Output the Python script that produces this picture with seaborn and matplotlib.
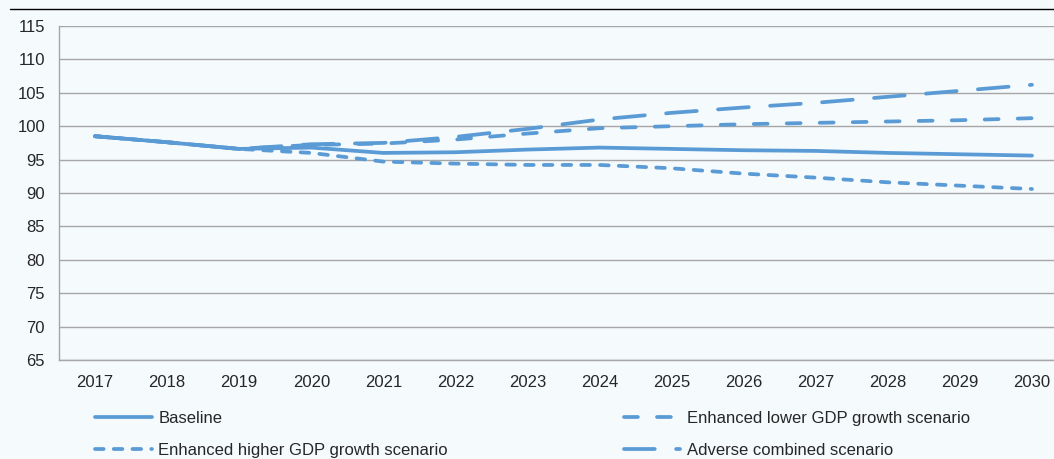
import numpy as np
import pandas as pd
import matplotlib
matplotlib.use("Agg")
import matplotlib.pyplot as plt
import seaborn as sns

# data
years = [2017, 2018, 2019, 2020, 2021, 2022, 2023, 2024, 2025, 2026, 2027, 2028, 2029, 2030]
baseline = [98.5, 97.6, 96.6, 96.8, 96.0, 96.1, 96.5, 96.8, 96.6, 96.4, 96.3, 96.0, 95.8, 95.6]
lower_gdp = [98.5, 97.6, 96.6, 97.2, 97.4, 98.0, 98.9, 99.7, 100.0, 100.3, 100.5, 100.7, 100.9, 101.2]
higher_gdp = [98.5, 97.6, 96.6, 96.0, 94.7, 94.4, 94.2, 94.2, 93.7, 92.9, 92.3, 91.6, 91.1, 90.6]
adverse = [98.5, 97.6, 96.6, 97.3, 97.5, 98.4, 99.6, 101.0, 102.0, 102.8, 103.5, 104.4, 105.3, 106.2]

names = ["Baseline", "Enhanced lower GDP growth scenario",
         "Enhanced higher GDP growth scenario", "Adverse combined scenario"]
series = [baseline, lower_gdp, higher_gdp, adverse]

rows = []
for name, vals in zip(names, series):
    for i, v in enumerate(vals):
        rows.append({"pos": i, "value": v, "scenario": name})
df = pd.DataFrame(rows)

bg = "#F5FAFD"
blue = "#5B9BD5"
txt = "#262626"

sns.set_style("white")
plt.rcParams["font.family"] = ["Liberation Sans", "DejaVu Sans"]

fig = plt.figure(figsize=(10.54, 4.59), dpi=100, facecolor=bg)
ax = fig.add_axes([59 / 1054, 1 - 360 / 459, 1009 / 1054, 334 / 459])
ax.set_facecolor(bg)

dashes = {
    names[0]: "",
    names[1]: (3.7, 5.1),
    names[2]: (2.3, 2.7),
    names[3]: (8.2, 5.7),
}
sns.lineplot(data=df, x="pos", y="value", hue="scenario", style="scenario",
             hue_order=names, style_order=names,
             palette=[blue] * 4, dashes=dashes, linewidth=2.7,
             dash_capstyle="round", solid_capstyle="round", ax=ax, legend=True)

ax.set_xlim(-0.5, 13.5)
ax.set_ylim(65, 115)
ax.set_yticks(np.arange(65, 116, 5))
ax.set_xticks(range(len(years)))
ax.set_xticklabels([str(y) for y in years])
ax.set_xlabel("")
ax.set_ylabel("")
ax.tick_params(axis="both", length=0, labelsize=12, colors=txt)
ax.tick_params(axis="y", pad=10)
ax.tick_params(axis="x", pad=11)
ax.grid(axis="y", color="#A6A6A6", linewidth=1)
ax.set_axisbelow(True)
for s in ["top", "right"]:
    ax.spines[s].set_visible(False)
for s in ["left", "bottom"]:
    ax.spines[s].set_color("#A6A6A6")
    ax.spines[s].set_linewidth(1)

# legend: two columns, order Baseline/higher in first column
handles, labels = ax.get_legend_handles_labels()
lookup = dict(zip(labels, handles))
order = [names[0], names[2], names[1], names[3]]
ax.legend([lookup[n] for n in order], order, ncol=2, frameon=False,
          fontsize=12, handlelength=3.4, handletextpad=0.4,
          columnspacing=10.55, labelspacing=1.0, labelcolor=txt,
          loc="upper left", bbox_to_anchor=(95 / 1054, 1 - 411 / 459),
          bbox_transform=fig.transFigure, borderaxespad=0, borderpad=0)

# thin rule across the top of the figure
fig.add_artist(plt.Line2D([10 / 1054, 1], [1 - 9 / 459, 1 - 9 / 459],
                          transform=fig.transFigure, color="#000000", linewidth=1))

fig.savefig("out.png", dpi=100, facecolor=bg)
